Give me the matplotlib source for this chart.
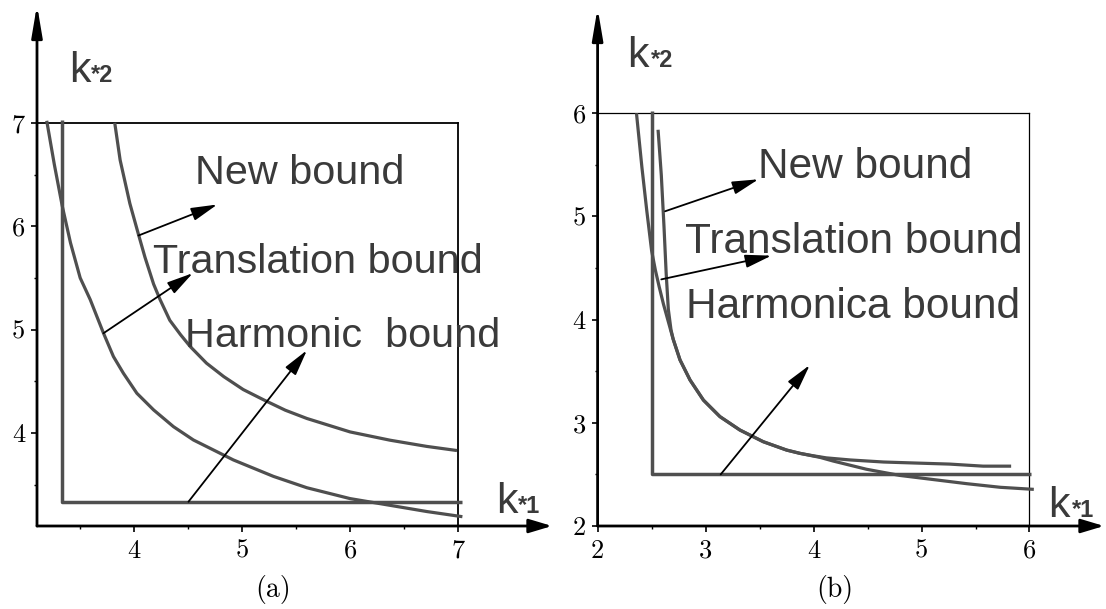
import matplotlib
matplotlib.use("Agg")
import matplotlib.pyplot as plt
from matplotlib.ticker import FixedLocator

# ---------------- data ----------------
# panel (a)
a_new_x = [3.82, 3.87, 3.96, 4.04, 4.10, 4.18, 4.24, 4.33, 4.43, 4.52, 4.67, 4.83, 5.01, 5.20, 5.40, 5.60, 6.00, 6.37, 6.71, 6.99]
a_new_y = [7.00, 6.64, 6.22, 5.92, 5.70, 5.44, 5.29, 5.09, 4.95, 4.835, 4.675, 4.545, 4.42, 4.32, 4.22, 4.14, 4.01, 3.93, 3.87, 3.83]
a_trans_x = [3.19, 3.26, 3.333, 3.41, 3.50, 3.593, 3.655, 3.716, 3.808, 3.90, 4.025, 4.18, 4.364, 4.549, 4.766, 4.919, 5.29, 5.60, 6.00, 6.37, 6.71, 7.04]
a_trans_y = [7.02, 6.60, 6.20, 5.84, 5.50, 5.29, 5.126, 4.965, 4.739, 4.578, 4.384, 4.223, 4.061, 3.932, 3.819, 3.739, 3.58, 3.47, 3.365, 3.30, 3.24, 3.19]
a_harm_x = [3.333, 3.333, 7.04]
a_harm_y = [7.03, 3.333, 3.333]
a_xticks = [4, 5, 6, 7]
a_yticks = [4, 5, 6, 7]
a_minor = [3.5, 4.5, 5.5, 6.5]

# panel (b)
b_new_x = [2.56, 2.59, 2.615, 2.635, 2.655, 2.68, 2.70, 2.763, 2.856, 2.98, 3.133, 3.318, 3.534, 3.75, 3.874, 4.00, 4.12, 4.34, 4.65, 4.95, 5.26, 5.57, 5.83]
b_new_y = [5.84, 5.40, 4.90, 4.45, 4.10, 3.90, 3.81, 3.61, 3.415, 3.22, 3.06, 2.93, 2.817, 2.736, 2.704, 2.68, 2.66, 2.64, 2.62, 2.61, 2.60, 2.58, 2.58]
b_trans_x = [2.36, 2.41, 2.455, 2.50, 2.535, 2.57, 2.61, 2.655, 2.70, 2.763, 2.856, 2.98, 3.133, 3.318, 3.534, 3.75, 3.874, 4.06, 4.18, 4.49, 4.80, 5.11, 5.42, 5.73, 6.04]
b_trans_y = [6.00, 5.48, 5.06, 4.67, 4.48, 4.32, 4.15, 3.98, 3.81, 3.61, 3.415, 3.22, 3.06, 2.93, 2.817, 2.736, 2.704, 2.665, 2.63, 2.55, 2.49, 2.45, 2.41, 2.375, 2.355]
b_harm_x = [2.5, 2.5, 6.01]
b_harm_y = [6.02, 2.5, 2.5]
b_xticks = [2, 3, 4, 5, 6]
b_yticks = [2, 3, 4, 5, 6]
b_minor = [2.5, 3.5, 4.5, 5.5]

a_labels = ["New bound", "Translation bound", "Harmonic  bound"]
b_labels = ["New bound", "Translation bound", "Harmonica bound"]

# ---------------- styling ----------------
W, H = 1106, 609
CURVE = "#4f4f4f"
TXT = "#3a3a3a"
SANS = "Liberation Sans"
SERIF = "cmr10"

fig = plt.figure(figsize=(W / 100, H / 100), dpi=100)
fig.patch.set_facecolor("white")


def px_box(l, t, r, b):
    return [l / W, 1 - b / H, (r - l) / W, (b - t) / H]


def setup(ax, xlim, ylim, xt, yt, minor, box):
    ax.set_xlim(*xlim)
    ax.set_ylim(*ylim)
    ax.patch.set_alpha(0)
    for s in ax.spines.values():
        s.set_visible(False)
    ax.set_xticks(xt, [str(v) for v in xt], fontfamily=SERIF, fontsize=19)
    ax.set_yticks(yt, [str(v) for v in yt], fontfamily=SERIF, fontsize=19)
    ax.xaxis.set_minor_locator(FixedLocator(minor))
    ax.yaxis.set_minor_locator(FixedLocator(minor))
    ax.tick_params(which="major", direction="out", length=4.5, width=1.2, color="black")
    ax.tick_params(which="minor", direction="out", length=2.5, width=1.0, color="black")
    ax.tick_params(axis="x", which="major", pad=5)
    ax.tick_params(axis="y", which="major", pad=4)
    # axis arrows
    ax.annotate("", xy=(xlim[1], ylim[0]), xytext=(xlim[0], ylim[0]),
                arrowprops=dict(arrowstyle="-|>,head_length=1.4,head_width=0.42",
                                lw=2.0, color="black", shrinkA=0, shrinkB=0),
                annotation_clip=False)
    ax.annotate("", xy=(xlim[0], ylim[1]), xytext=(xlim[0], ylim[0]),
                arrowprops=dict(arrowstyle="-|>,head_length=1.9,head_width=0.32",
                                lw=2.0, color="black", shrinkA=0, shrinkB=0),
                annotation_clip=False)
    # frame (top / right)
    ax.plot([xlim[0], box[0]], [box[1], box[1]], color="black", lw=box[2], clip_on=False)
    ax.plot([box[0], box[0]], [box[1], ylim[0]], color="black", lw=box[2], clip_on=False)


def arrow(ax, start, end):
    ax.annotate("", xy=end, xytext=start,
                arrowprops=dict(arrowstyle="-|>,head_length=1.6,head_width=0.4",
                                lw=1.3, color="black", shrinkA=0, shrinkB=0))


def klabel(ax, x, y, xs, sub):
    ax.text(x, y, "k", fontfamily=SANS, fontsize=31, color=TXT, va="baseline", ha="left", clip_on=False)
    ax.text(xs, y, "*" + sub, fontfamily=SANS, fontsize=17, fontweight="bold", color=TXT,
            va="baseline", ha="left", clip_on=False)


def curve(ax, x, y, lw=2.3):
    ax.plot(x, y, color=CURVE, lw=lw, clip_on=False, solid_capstyle="butt", solid_joinstyle="round")


# ---------------- panel (a) ----------------
axA = fig.add_axes(px_box(37, 5, 552, 526))
setup(axA, (3.1, 7.87), (3.1, 8.14), a_xticks, a_yticks, a_minor, (7.0, 7.0, 1.3))
curve(axA, a_new_x, a_new_y)
curve(axA, a_trans_x, a_trans_y)
curve(axA, a_harm_x, a_harm_y, 2.5)
arrow(axA, (4.04, 5.91), (4.77, 6.21))
arrow(axA, (3.716, 4.965), (4.543, 5.546))
arrow(axA, (4.503, 3.335), (5.60, 4.80))
axA.text(4.56, 6.41, a_labels[0], fontfamily=SANS, fontsize=29.8, color=TXT, va="baseline")
axA.text(4.17, 5.549, a_labels[1], fontfamily=SANS, fontsize=29.8, color=TXT, va="baseline")
axA.text(4.47, 4.835, a_labels[2], fontfamily=SANS, fontsize=29.8, color=TXT, va="baseline")
klabel(axA, 3.395, 7.398, 3.60, "2")
klabel(axA, 7.35, 3.226, 7.555, "1")

# ---------------- panel (b) ----------------
axB = fig.add_axes(px_box(597.6, 8, 1104, 526))
setup(axB, (2.0, 6.69), (2.0, 7.02), b_xticks, b_yticks, b_minor, (6.0, 6.0, 0.9))
curve(axB, b_new_x, b_new_y)
curve(axB, b_trans_x, b_trans_y)
curve(axB, b_harm_x, b_harm_y, 2.5)
arrow(axB, (2.625, 5.05), (3.49, 5.36))
arrow(axB, (2.59, 4.39), (3.61, 4.62))
arrow(axB, (3.14, 2.50), (3.965, 3.56))
axB.text(3.49, 5.372, b_labels[0], fontfamily=SANS, fontsize=30.5, color=TXT, va="baseline")
axB.text(2.805, 4.645, b_labels[1], fontfamily=SANS, fontsize=30.5, color=TXT, va="baseline")
axB.text(2.82, 4.016, b_labels[2], fontfamily=SANS, fontsize=30.5, color=TXT, va="baseline")
klabel(axB, 2.27, 6.448, 2.49, "2")
klabel(axB, 6.17, 2.087, 6.39, "1")

# captions
fig.text(273 / W, 1 - 590 / H, "(a)", fontfamily=SERIF, fontsize=20, ha="center", va="center")
fig.text(835 / W, 1 - 590 / H, "(b)", fontfamily=SERIF, fontsize=20, ha="center", va="center")

fig.savefig("out.png", dpi=100, facecolor="white")
